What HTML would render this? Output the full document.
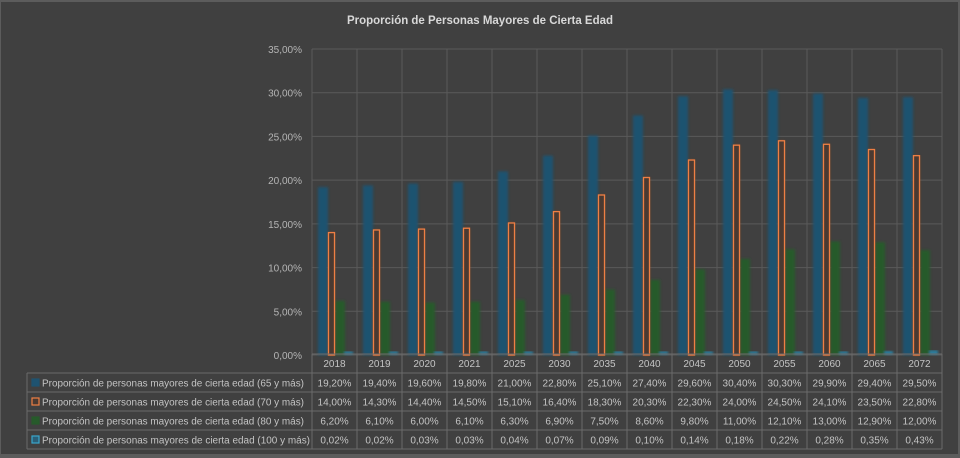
<!DOCTYPE html>
<html><head><meta charset="utf-8"><style>
html,body{margin:0;padding:0;background:#5a5a5a;}
svg{display:block;}
text{font-family:"Liberation Sans",sans-serif;}
</style></head><body>
<svg width="960" height="458" viewBox="0 0 960 458" xmlns="http://www.w3.org/2000/svg">
<defs><filter id="bl" x="-50%" y="-5%" width="200%" height="110%"><feGaussianBlur stdDeviation="1.3"/></filter></defs>
<rect x="0" y="0" width="960" height="458" fill="#5c5c5c"/>
<rect x="1" y="2" width="957" height="452" fill="#404040"/>
<text x="480" y="24" text-anchor="middle" font-size="12" font-weight="bold" fill="#d8d8d8" textLength="266" lengthAdjust="spacingAndGlyphs">Proporción de Personas Mayores de Cierta Edad</text>
<g id="grid" stroke="#5a5a5a" stroke-width="1"></g>
<g id="ylab" font-size="10" fill="#b5b5b5" text-anchor="end"></g>
<g id="bars"></g>
<g id="table" font-size="10" fill="#c4c4c4"></g>
<script>
var ns="http://www.w3.org/2000/svg";
function el(p,t,a,txt){var e=document.createElementNS(ns,t);for(var k in a)e.setAttribute(k,a[k]);if(txt!=null)e.textContent=txt;p.appendChild(e);return e;}
var L=312,R=942,T=49,B=355,W=45,py=(B-T)/35;
var g=document.getElementById('grid');
for(var i=0;i<=7;i++){var y=B-i*5*py;el(g,'line',{x1:L,x2:R,y1:y,y2:y});
el(document.getElementById('ylab'),'text',{x:302,y:y+4},(i*5)+',00%');}
for(var i=0;i<=14;i++){el(g,'line',{x1:L+i*W,x2:L+i*W,y1:T,y2:B});}
var yrs=['2018','2019','2020','2021','2025','2030','2035','2040','2045','2050','2055','2060','2065','2072'];
var d=[[19.2,19.4,19.6,19.8,21,22.8,25.1,27.4,29.6,30.4,30.3,29.9,29.4,29.5],
[14,14.3,14.4,14.5,15.1,16.4,18.3,20.3,22.3,24,24.5,24.1,23.5,22.8],
[6.2,6.1,6,6.1,6.3,6.9,7.5,8.6,9.8,11,12.1,13,12.9,12],
[0.02,0.02,0.03,0.03,0.04,0.07,0.09,0.1,0.14,0.18,0.22,0.28,0.35,0.43]];
var b=document.getElementById('bars');
for(var c=0;c<14;c++){var x0=L+c*W;
 var h=d[0][c]*py;el(b,'rect',{x:x0+6,y:B-h,width:10,height:h,fill:'#1f5370',filter:'url(#bl)'});
 h=d[2][c]*py;el(b,'rect',{x:x0+23,y:B-h,width:10,height:h,fill:'#275a2b',filter:'url(#bl)'});
 h=d[1][c]*py;el(b,'rect',{x:x0+16.5,y:B-h,width:6,height:h,fill:'#8a4a2a',filter:'url(#bl)'});
 el(b,'rect',{x:x0+16.5,y:B-h,width:6,height:h,fill:'#4a3a32',stroke:'#ee7f44','stroke-width':1.3});
 h=Math.max(d[3][c]*py,2.5);el(b,'rect',{x:x0+32,y:B-h-1,width:9,height:h+1,fill:'#2a7fa0',filter:'url(#bl)'});
}
var t=document.getElementById('table');
var rows=[354,373,392,411,430,449],TL=27;
var lc='#6a6a6a';
el(t,'line',{x1:L,x2:R,y1:354,y2:354,stroke:lc});
for(var r=1;r<6;r++)el(t,'line',{x1:TL,x2:R,y1:rows[r],y2:rows[r],stroke:lc});
el(t,'line',{x1:TL,x2:TL,y1:373,y2:449,stroke:lc});
for(var i=0;i<=14;i++)el(t,'line',{x1:L+i*W,x2:L+i*W,y1:354,y2:449,stroke:lc});
for(var c=0;c<14;c++)el(t,'text',{x:L+c*W+W/2,y:367,'text-anchor':'middle'},yrs[c]);
var names=['65','70','80','100'];
var mk=[['#1f5370','#1f5370'],['#4a3a32','#ee7f44'],['#275a2b','#275a2b'],['#2a5f78','#3aa6cc']];
var lens=[262,262,262,268];
for(var r=0;r<4;r++){var yy=rows[r+1];
 el(t,'rect',{x:TL+5,y:yy+6,width:7,height:7,fill:mk[r][0],stroke:mk[r][1],'stroke-width':1.2});
 el(t,'text',{x:TL+15,y:yy+13.5,textLength:lens[r],lengthAdjust:'spacingAndGlyphs'},'Proporción de personas mayores de cierta edad ('+names[r]+' y más)');
 for(var c=0;c<14;c++){el(t,'text',{x:L+c*W+W/2,y:yy+13.5,'text-anchor':'middle'},d[r][c].toFixed(2).replace('.',',')+'%');}
}
</script>
</svg>
</body></html>
